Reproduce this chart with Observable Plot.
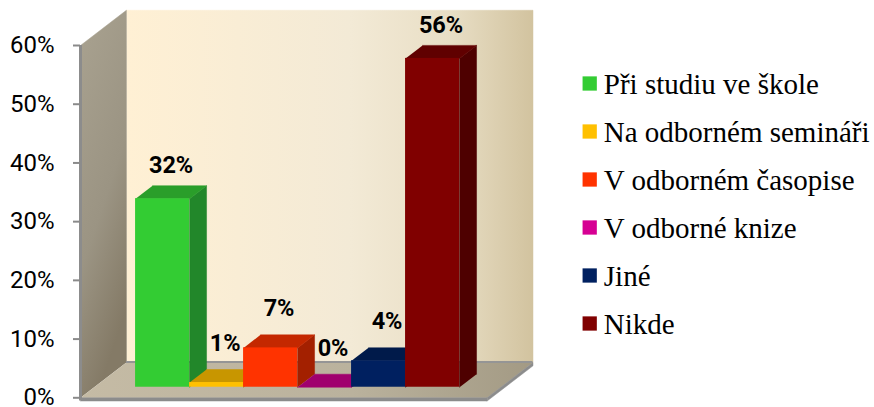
<!DOCTYPE html>
<html><head><meta charset="utf-8">
<script src="https://cdn.jsdelivr.net/npm/d3@7"></script>
<script src="https://cdn.jsdelivr.net/npm/@observablehq/plot@0.6"></script>
<style>
html,body{margin:0;padding:0;background:#fff;}
#chart{position:relative;width:874px;height:407px;overflow:hidden;}
#chart svg{position:absolute;top:0;}
#chart svg.legendplot text{font-family:"Liberation Serif","Times New Roman",serif !important;}
</style></head><body><div id="chart"></div>
<script>
// ---- data ----
const categories = ["Při studiu ve škole","Na odborném semináři","V odborném časopise","V odborné knize","Jiné","Nikde"];
const values = [32.1, 0.8, 6.7, 0, 4.5, 56];
const valueLabels = ["32%","1%","7%","0%","4%","56%"];
const yTicks = [0,10,20,30,40,50,60];
const yTickLabels = ["0%","10%","20%","30%","40%","50%","60%"];
// ---- palette ----
const frontColors = ["#33CC33","#FFC000","#FF3300","#D60093","#002060","#800000"];
const topColors   = ["#2A9E2A","#C89600","#C42800","#A0006E","#001A4A","#600000"];
const sideColors  = ["#22872A","#A97F00","#A32000","#85005B","#00143A","#4E0000"];

// ---- pseudo-3D geometry (in data units) ----
const XMIN = -0.765, XMAX = 6.765, YMAX = 60;
const DX = 0.85, DY = 6;          // full depth of the chart box
const P0 = 0.30, P1 = 0.67;       // depth of bar front / back
const T = 0.55;                   // floor edge thickness
const ox0 = P0*DX, oy0 = P0*DY, ox1 = P1*DX, oy1 = P1*DY;

const poly = (id, pts, color) => pts.map(([x, y]) => ({id, x, y, color}));

const leftWall = poly("lw", [[XMIN,0],[XMIN,YMAX],[XMIN+DX,YMAX+DY],[XMIN+DX,DY]], "url(#gLeft)");
const backWall = poly("bw", [[XMIN+DX,DY],[XMAX+DX,DY],[XMAX+DX,YMAX+DY],[XMIN+DX,YMAX+DY]], "url(#gBack)");
const floor = poly("fl", [[XMIN,0],[XMAX,0],[XMAX+DX,DY],[XMIN+DX,DY]], "url(#gFloor)");
const edges = [
  ...poly("e1", [[XMIN,0],[XMAX,0],[XMAX,-T],[XMIN,-T]], "#8c8c8c"),
  ...poly("e2", [[XMAX,0],[XMAX+DX,DY],[XMAX+DX,DY-T],[XMAX,-T]], "#8c8c8c")
];

const sides = values.flatMap((v,i) => poly("s"+i,
  [[i+1+ox0,oy0],[i+1+ox0,v+oy0],[i+1+ox1,v+oy1],[i+1+ox1,oy1]], sideColors[i]));
const tops = values.flatMap((v,i) => poly("t"+i,
  [[i+ox0,v+oy0],[i+1+ox0,v+oy0],[i+1+ox1,v+oy1],[i+ox1,v+oy1]], topColors[i]));
const fronts = values.map((v,i) => ({x1:i+ox0, x2:i+1+ox0, y1:oy0, y2:v+oy0, color:frontColors[i]}));

const polyMark = (data) => Plot.line(data, {x:"x", y:"y", z:"id", fill:"color", stroke:"color", strokeWidth:0.5});

const chart = Plot.plot({
  width: 874, height: 407,
  marginLeft: 80, marginRight: 387.4, marginTop: 45, marginBottom: 9.7,
  x: {domain: [XMIN, XMAX], axis: null},
  y: {domain: [0, YMAX], axis: null},
  color: {type: "identity"},
  style: {fontFamily: "Roboto", fontSize: "24px", background: "transparent", overflow: "visible"},
  marks: [
    polyMark(backWall),
    polyMark(leftWall),
    polyMark(floor),
    Plot.ruleY([DY], {x1: XMIN+DX, x2: XMAX+DX, stroke: "#959595", strokeWidth: 2, dy: -0.5}),
    polyMark(edges),
    Plot.ruleX([XMIN], {y1: -T, y2: YMAX, stroke: "#8c8c8c", strokeWidth: 3}),
    Plot.axisY(yTicks, {tickFormat: d => yTickLabels[yTicks.indexOf(d)], tickSize: 7, tickPadding: 19,
      stroke: "#8a8a8a", strokeWidth: 2, fill: "#000", fontSize: 24, fontFamily: "Roboto", label: null}),
    polyMark(sides),
    polyMark(tops),
    Plot.rect(fronts, {x1:"x1", x2:"x2", y1:"y1", y2:"y2", fill:"color"}),
    // tall bars carry their label a little closer than short ones
    Plot.text(values.filter(v => v >= 20), {x: v => values.indexOf(v) + 0.5 + (P0+P1)/2*DX, y: v => v + oy1,
      text: v => valueLabels[values.indexOf(v)], dy: -20, fontWeight: "bold", fontSize: 23.5,
      fontFamily: "Roboto", fill: "#000"}),
    Plot.text(values.filter(v => v < 20), {x: v => values.indexOf(v) + 0.5 + (P0+P1)/2*DX, y: v => v + oy1,
      text: v => valueLabels[values.indexOf(v)], dy: -26, fontWeight: "bold", fontSize: 23.5,
      fontFamily: "Roboto", fill: "#000"})
  ]
});

const defs = d3.select(chart).insert("defs", ":first-child");
defs.html(`
<linearGradient id="gBack" x1="0" y1="0" x2="1" y2="0">
  <stop offset="0" stop-color="#fff0d4"/>
  <stop offset="0.55" stop-color="#f3ead6"/>
  <stop offset="0.8" stop-color="#e8dec5"/>
  <stop offset="1" stop-color="#d2c39f"/>
</linearGradient>
<linearGradient id="gLeft" x1="0" y1="0" x2="0.35" y2="1">
  <stop offset="0" stop-color="#a9a290"/>
  <stop offset="0.6" stop-color="#9b9483"/>
  <stop offset="1" stop-color="#847a66"/>
</linearGradient>
<linearGradient id="gFloor" x1="0" y1="0" x2="1" y2="0">
  <stop offset="0" stop-color="#c5bba5"/>
  <stop offset="0.6" stop-color="#bab29d"/>
  <stop offset="1" stop-color="#a39a84"/>
</linearGradient>`);

const legend = Plot.plot({
  width: 299, height: 407, margin: 0,
  className: "legendplot",
  y: {type: "point", domain: categories, range: [82, 323.7], padding: 0, axis: null},
  color: {type: "identity"},
  style: {background: "transparent", overflow: "visible", fontFamily: "'Liberation Serif', 'Times New Roman', serif"},
  marks: [
    Plot.dot(categories, {y: d => d, frameAnchor: "left", dx: 14.2, symbol: "square", r: 8.05,
      fill: (d,i) => frontColors[i]}),
    Plot.text(categories, {y: d => d, frameAnchor: "left", dx: 28.3, dy: 1, text: d => d,
      textAnchor: "start", fontFamily: "'Liberation Serif', 'Times New Roman', serif", fontSize: 29, fill: "#000"})
  ]
});
legend.classList.add("legendplot");
legend.style.left = "575px";

const root = document.getElementById("chart");
chart.style.left = "0px";
root.appendChild(chart);
root.appendChild(legend);
</script></body></html>
